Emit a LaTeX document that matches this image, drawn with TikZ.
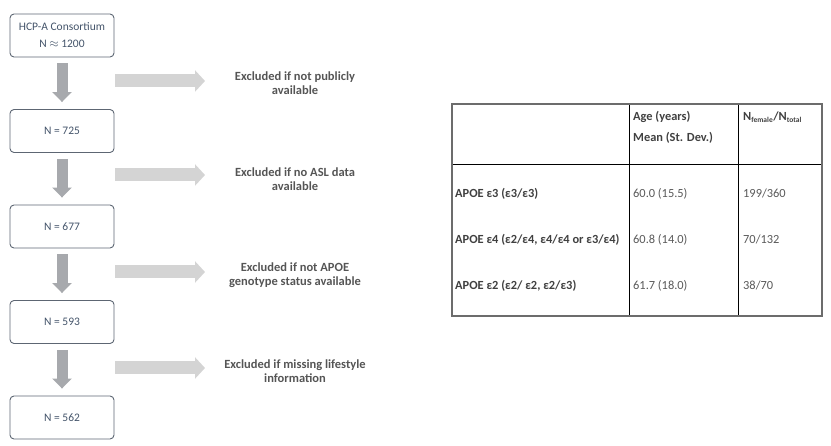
\documentclass[tikz,border=0pt]{standalone}
\usepackage{fontspec}
\setmainfont{Carlito}
\usetikzlibrary{arrows.meta,positioning,calc}
\definecolor{boxtxt}{HTML}{44546A}
\definecolor{boxline}{HTML}{5D6673}
\definecolor{downar}{HTML}{A7A9AD}
\definecolor{rightar}{HTML}{D4D4D4}
\definecolor{extxt}{HTML}{555555}
\definecolor{tablbl}{HTML}{404040}
\definecolor{tabval}{HTML}{595959}
\begin{document}
\begin{tikzpicture}[x=1pt,y=-1pt,
  flowbox/.style={draw=boxline,line width=0.9pt,rounded corners=4pt,minimum width=104pt,minimum height=43pt,inner sep=0pt,text=boxtxt,font=\fontsize{11.5}{17}\selectfont,align=center},
  downarrow/.style={line width=11pt,draw=downar,-{Triangle[width=19pt,length=10pt]}},
  rightarrow/.style={line width=13pt,draw=rightar,-{Triangle[width=21pt,length=10pt]}},
  exclude/.style={text=extxt,font=\fontsize{12.5}{13.5}\selectfont\bfseries,align=center,inner sep=0pt},
  tlabel/.style={anchor=mid west,inner sep=0pt,text=tablbl,font=\fontsize{12.4}{12}\selectfont\bfseries},
  tvalue/.style={anchor=mid west,inner sep=0pt,text=tabval,font=\fontsize{12.4}{12}\selectfont},
  theader/.style={anchor=mid west,inner sep=0pt,text=tablbl,font=\fontsize{12.4}{12}\selectfont\bfseries},
]
\useasboundingbox (0,0) rectangle (831,446);
% flow boxes
\node[flowbox] (b1) at (62,35.5) {HCP-A Consortium\\N $\approx$ 1200};
\node[flowbox] (b2) at (62,131) {N = 725};
\node[flowbox] (b3) at (62,226.5) {N = 677};
\node[flowbox] (b4) at (62,322) {N = 593};
\node[flowbox] (b5) at (62,417.5) {N = 562};
% down arrows
\draw[downarrow] ([yshift=-6pt]b1.south) -- ([yshift=7pt]b2.north);
\draw[downarrow] ([yshift=-6pt]b2.south) -- ([yshift=7pt]b3.north);
\draw[downarrow] ([yshift=-6pt]b3.south) -- ([yshift=7pt]b4.north);
\draw[downarrow] ([yshift=-6pt]b4.south) -- ([yshift=7pt]b5.north);
% exclusion texts
\node[exclude] (e1) at (295,83) {Excluded if not publicly\\available};
\node[exclude] (e2) at (295,179) {Excluded if no ASL data\\available};
\node[exclude] (e3) at (295,275) {Excluded if not APOE\\genotype status available};
\node[exclude] (e4) at (295,371) {Excluded if missing lifestyle\\information};
% right arrows
\coordinate (s1) at (115,81);  \coordinate (t1) at (205,81);
\coordinate (s2) at (115,175); \coordinate (t2) at (205,175);
\coordinate (s3) at (115,272); \coordinate (t3) at (205,272);
\coordinate (s4) at (115,368); \coordinate (t4) at (205,368);
\draw[rightarrow] (s1) -- (t1);
\draw[rightarrow] (s2) -- (t2);
\draw[rightarrow] (s3) -- (t3);
\draw[rightarrow] (s4) -- (t4);
% table
\draw[black,line width=0.8pt] (452,164) -- (822,164);
\draw[black,line width=0.8pt] (629,104) -- (629,316);
\draw[black,line width=0.8pt] (738,104) -- (738,316);
\draw[draw=gray!85!black,line width=1.3pt] (452,104) rectangle (822,316);
\node[theader] (h1) at (633,118) {Age (years)};
\node[theader] (h2) at (633,139) {Mean (St. Dev.)};
\node[theader] (h3) at (743,118) {N\textsubscript{\fontsize{7.5}{8}\selectfont female}/N\textsubscript{\fontsize{7.5}{8}\selectfont total}};
\node[tlabel] (l1) at (455,195) {APOE ε3 (ε3/ε3)};
\node[tlabel] (l2) at (455,241) {APOE ε4 (ε2/ε4, ε4/ε4 or ε3/ε4)};
\node[tlabel] (l3) at (455,287) {APOE ε2 (ε2/ ε2, ε2/ε3)};
\node[tvalue] (a1) at (633,195) {60.0 (15.5)};
\node[tvalue] (a2) at (633,241) {60.8 (14.0)};
\node[tvalue] (a3) at (633,287) {61.7 (18.0)};
\node[tvalue] (n1) at (743,195) {199/360};
\node[tvalue] (n2) at (743,241) {70/132};
\node[tvalue] (n3) at (743,287) {38/70};
\end{tikzpicture}
\end{document}
